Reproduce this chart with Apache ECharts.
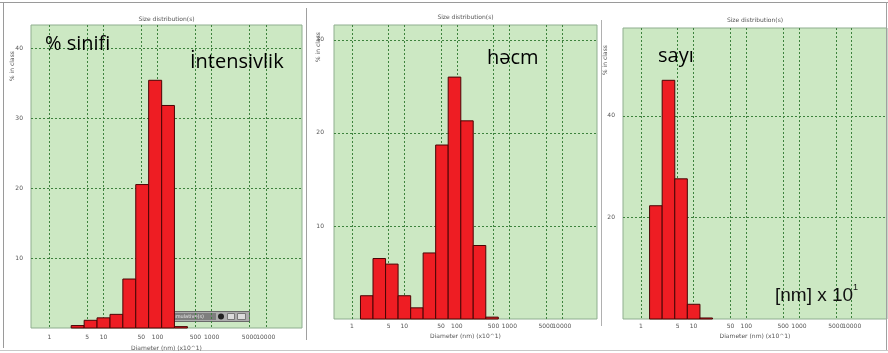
<!DOCTYPE html>
<html>
<head>
<meta charset="utf-8">
<script src="https://cdn.jsdelivr.net/npm/echarts@6/dist/echarts.min.js"></script>
<style>
  html, body { margin: 0; padding: 0; background: #fff; }
  #chart { width: 888px; height: 353px; }
</style>
</head>
<body>
<div id="chart"></div>
<script>
// bin edges (diameter, nm x10^1), same log bins for the three panels
const binEdges = [1.46, 2.53, 4.39, 7.60, 13.2, 22.8, 39.5, 68.4, 119, 205, 356, 616]
// % in class per bin
const intensity = [0, 0.35, 1.1, 1.45, 1.95, 7.0, 20.5, 35.4, 31.8, 0.2, 0]
const volume = [2.5, 6.5, 5.9, 2.5, 1.2, 7.1, 18.7, 26.0, 21.3, 7.9, 0.2]
const number = [22.3, 47.0, 27.6, 2.9, 0.2, 0, 0, 0, 0, 0, 0]

const xTicks = [1, 5, 10, 50, 100, 500, 1000, 5000, 10000]
const yTicks = [[10, 20, 30, 40], [10, 20, 30], [20, 40]]
const yMax = [43.3, 31.6, 57.3]

const GREEN = '#cce8c3'
const GRID_LINE = '#3d823d'
const TICK_TEXT = '#555'

const grids = [
  { left: 31, top: 25, width: 271, height: 303 },
  { left: 334, top: 25, width: 263, height: 294 },
  { left: 623, top: 28, width: 264, height: 291 },
]
const labelMargin = [6, 4, 4]
const nameGap = [17, 14, 14]

function toBars(values) {
  const out = []
  values.forEach((v, i) => {
    if (v > 0) out.push([Math.log10(binEdges[i]), Math.log10(binEdges[i + 1]), v])
  })
  return out
}

function renderBar(params, api) {
  const top = api.coord([api.value(0), api.value(2)])
  const bottom = api.coord([api.value(1), 0])
  return {
    type: 'rect',
    shape: { x: top[0], y: top[1], width: bottom[0] - top[0], height: bottom[1] - top[1] },
    style: { fill: '#ee1d23', stroke: '#4a0505', lineWidth: 1 },
  }
}

const xLog = xTicks.map((v) => Math.log10(v))
// the last label overlaps its neighbour in the original, so it goes on a second axis
const xLogMain = xLog.slice(0, -1)
const xLogLast = xLog.slice(-1)

const labelStyle = {
  hideOverlap: false,
  interval: 0,
  fontSize: 6,
  color: TICK_TEXT,
  fontFamily: 'DejaVu Sans',
  formatter: (v) => String(Math.round(Math.pow(10, v))),
}

const mainX = grids.map((g, i) => ({
  type: 'value',
  gridIndex: i,
  min: -0.34,
  max: 4.67,
  name: 'Diameter (nm) (x10^1)',
  nameLocation: 'middle',
  nameGap: nameGap[i],
  nameTextStyle: { fontSize: 6, color: TICK_TEXT, fontFamily: 'DejaVu Sans' },
  axisLine: { show: false },
  axisTick: { show: false, customValues: xLog },
  axisLabel: { ...labelStyle, customValues: xLogMain, margin: labelMargin[i] },
  splitLine: { show: true, lineStyle: { color: GRID_LINE, type: [2, 2], width: 1 } },
}))
const lastX = grids.map((g, i) => ({
  type: 'value',
  gridIndex: i,
  position: 'bottom',
  min: -0.34,
  max: 4.67,
  axisLine: { show: false },
  axisTick: { show: false, customValues: xLogLast },
  axisLabel: { ...labelStyle, customValues: xLogLast, margin: labelMargin[i] },
  splitLine: { show: false },
}))

const option = {
  backgroundColor: '#fff',
  animation: false,
  grid: grids.map((g) => ({
    ...g,
    show: true,
    backgroundColor: GREEN,
    borderColor: '#8fae8f',
    borderWidth: 1,
    outerBoundsMode: 'none',
  })),
  xAxis: [...mainX, ...lastX],
  yAxis: grids.map((g, i) => ({
    type: 'value',
    gridIndex: i,
    min: 0,
    max: yMax[i],
    axisLine: { show: false },
    axisTick: { show: false, customValues: yTicks[i] },
    axisLabel: {
      customValues: yTicks[i],
      margin: i === 1 ? 10 : 8,
      fontSize: 6,
      color: TICK_TEXT,
      fontFamily: 'DejaVu Sans',
    },
    splitLine: { show: true, lineStyle: { color: GRID_LINE, type: [2, 2], width: 1 } },
  })),
  series: [intensity, volume, number].map((vals, i) => ({
    type: 'custom',
    xAxisIndex: i,
    yAxisIndex: i,
    renderItem: renderBar,
    encode: { x: [0, 1], y: 2 },
    data: toBars(vals),
    z: 3,
  })),
  graphic: [
    // screenshot frames
    { type: 'line', shape: { x1: 0, y1: 2.5, x2: 888, y2: 2.5 }, style: { stroke: '#9a9a9a', lineWidth: 1 } },
    { type: 'line', shape: { x1: 3.5, y1: 2, x2: 3.5, y2: 348 }, style: { stroke: '#9a9a9a', lineWidth: 1 } },
    { type: 'line', shape: { x1: 306.5, y1: 8, x2: 306.5, y2: 340 }, style: { stroke: '#a0a0a0', lineWidth: 1 } },
    { type: 'line', shape: { x1: 601.5, y1: 20, x2: 601.5, y2: 326 }, style: { stroke: '#b0b0b0', lineWidth: 1 } },
    { type: 'line', shape: { x1: 886.5, y1: 2, x2: 886.5, y2: 350 }, style: { stroke: '#a0a0a0', lineWidth: 1 } },
    { type: 'line', shape: { x1: 0, y1: 350.5, x2: 888, y2: 350.5 }, style: { stroke: '#c8c8c8', lineWidth: 1 } },

    // chart titles
    ...grids.map((g, i) => ({
      type: 'text',
      x: g.left + g.width / 2,
      y: [19, 17, 20][i],
      style: { text: 'Size distribution(s)', fontSize: 6, fill: TICK_TEXT, fontFamily: 'DejaVu Sans', textAlign: 'center', textVerticalAlign: 'middle' },
    })),
    // y axis names
    ...[[12, 66], [318, 47], [605, 60]].map(([x, y]) => ({
      type: 'text',
      x, y,
      rotation: Math.PI / 2,
      style: { text: '% in class', fontSize: 6, fill: TICK_TEXT, fontFamily: 'DejaVu Sans', textAlign: 'center', textVerticalAlign: 'middle' },
    })),

    // annotations
    { type: 'text', x: 45, y: 44, z: 10, style: { text: '% sinifi', fontSize: 20, fill: '#000', fontFamily: 'Open Sans', textVerticalAlign: 'middle' } },
    { type: 'text', x: 190, y: 62, z: 10, style: { text: 'İntensivlik', fontSize: 20, fill: '#000', fontFamily: 'Open Sans', textVerticalAlign: 'middle' } },
    { type: 'text', x: 487, y: 58, z: 10, style: { text: 'həcm', fontSize: 20, fill: '#000', fontFamily: 'Open Sans', textVerticalAlign: 'middle' } },
    { type: 'text', x: 658, y: 56, z: 10, style: { text: 'sayı', fontSize: 20, fill: '#000', fontFamily: 'Open Sans', textVerticalAlign: 'middle' } },
    { type: 'text', x: 775, y: 296, z: 10, style: { text: '[nm] x 10', fontSize: 19, fill: '#111', fontFamily: 'Liberation Sans', textVerticalAlign: 'middle' } },
    { type: 'text', x: 853, y: 288, z: 10, style: { text: '1', fontSize: 9, fill: '#111', fontFamily: 'Liberation Sans', textVerticalAlign: 'middle' } },

    // small floating toolbar window in the first panel
    {
      type: 'group', z: 20,
      children: [
        { type: 'rect', shape: { x: 154.5, y: 311.5, width: 95, height: 10 }, style: { fill: '#adadad', stroke: '#6a6a6a', lineWidth: 1 } },
        { type: 'rect', shape: { x: 157, y: 313, width: 7, height: 7 }, style: { fill: '#2f3a40' } },
        { type: 'rect', shape: { x: 167, y: 313, width: 49, height: 7 }, style: { fill: '#7e7e7e' } },
        { type: 'text', x: 169, y: 316.5, style: { text: 'Cumulative(s)', fontSize: 5, fill: '#e8e8e8', fontFamily: 'DejaVu Sans', textVerticalAlign: 'middle' } },
        { type: 'circle', shape: { cx: 221, cy: 316.5, r: 3 }, style: { fill: '#222' } },
        { type: 'rect', shape: { x: 227.5, y: 313.5, width: 7, height: 6 }, style: { fill: '#dcdcdc', stroke: '#777', lineWidth: 1 } },
        { type: 'rect', shape: { x: 237.5, y: 313.5, width: 8, height: 6 }, style: { fill: '#dcdcdc', stroke: '#777', lineWidth: 1 } },
      ],
    },
  ],
}

const chart = echarts.init(document.getElementById('chart'))
chart.setOption(option)
window.addEventListener('resize', () => chart.resize())
</script>
</body>
</html>
